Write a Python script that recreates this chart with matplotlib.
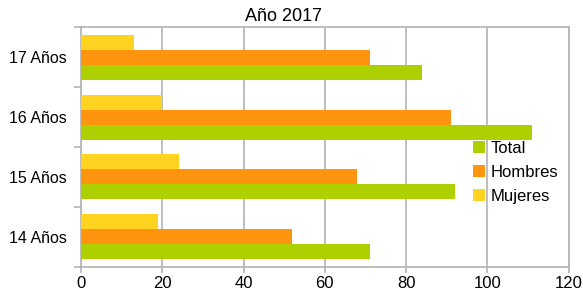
import numpy as np
import matplotlib.pyplot as plt

plt.rcParams['font.family'] = ['Liberation Sans', 'DejaVu Sans']

categorias = ['14 Años', '15 Años', '16 Años', '17 Años']
total = [71, 92, 111, 84]
hombres = [52, 68, 91, 71]
mujeres = [19, 24, 20, 13]

fig = plt.figure(figsize=(5.83, 3.0), dpi=100)
W, H = 583, 300
ax = fig.add_axes([81 / W, 1 - 266.7 / H, (568.7 - 81) / W, (266.7 - 27.3) / H])

y = np.arange(len(categorias))
h = 0.25
ax.barh(y - h, total, height=h, color='#aecf00', label='Total', zorder=3)
ax.barh(y, hombres, height=h, color='#ff950e', label='Hombres', zorder=3)
ax.barh(y + h, mujeres, height=h, color='#ffd320', label='Mujeres', zorder=3)

ax.set_xlim(0, 120)
ax.set_ylim(-0.5, 3.5)
ax.set_xticks(np.arange(0, 121, 20))
ax.set_yticks(y)
ax.set_yticklabels(categorias)
ax.set_yticks(np.arange(-0.5, 3.6, 1), minor=True)
ax.tick_params(axis='y', which='major', length=0, pad=10, labelsize=11.5)
ax.tick_params(axis='y', which='minor', length=5, color='#b3b3b3', width=1.2)
ax.tick_params(axis='x', length=4, color='#b3b3b3', width=1.2, labelsize=12, pad=3)
ax.grid(axis='x', color='#b3b3b3', linewidth=1.2, zorder=0)
for s in ax.spines.values():
    s.set_color('#b3b3b3')
    s.set_linewidth(1.2)

fig.text(283.5 / W, 1 - 21 / H, 'Año 2017', fontsize=13, ha='center', va='baseline')

ax.legend(loc='upper left', bbox_to_anchor=(466 / W, 1 - 134 / H), bbox_transform=fig.transFigure,
          frameon=False, fontsize=12, handlelength=0.75, handleheight=0.75, handletextpad=0.35,
          labelspacing=0.55, borderaxespad=0)

fig.savefig('out.png', dpi=100)
